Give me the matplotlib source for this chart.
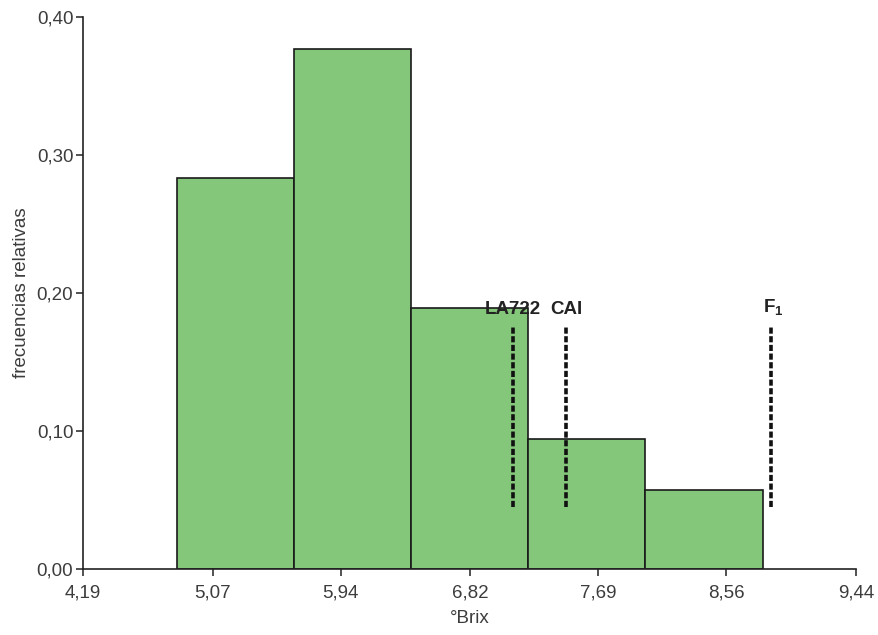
import numpy as np
import matplotlib.pyplot as plt

plt.rcParams['font.family'] = ['Liberation Sans', 'DejaVu Sans']

# histogram bins (°Brix) and relative frequencies
bin_edges = [4.83, 5.62, 6.42, 7.21, 8.01, 8.81]
rel_freq = [0.283, 0.377, 0.189, 0.094, 0.057]

# reference lines for the genotypes
ref_names = ['LA722', 'CAI', 'F$_{\\mathregular{1}}$']
ref_x = [7.11, 7.47, 8.86]
ref_ymin = 0.045
ref_ymax = 0.176

xticks = [4.19, 5.07, 5.94, 6.82, 7.69, 8.56, 9.44]
xtick_labels = ['4,19', '5,07', '5,94', '6,82', '7,69', '8,56', '9,44']
yticks = [0.0, 0.1, 0.2, 0.3, 0.4]
ytick_labels = ['0,00', '0,10', '0,20', '0,30', '0,40']

fig = plt.figure(figsize=(8.79, 6.35), dpi=100)
ax = fig.add_axes([83/879, 66/635, 773/879, 552/635])

left = np.array(bin_edges[:-1])
widths = np.diff(bin_edges)
ax.bar(left, rel_freq, width=widths, align='edge', color='#85c77a',
       edgecolor='#1a1a1a', linewidth=1.2)

ax.vlines(ref_x, ref_ymin, ref_ymax, colors='#111111', linewidth=2.6,
          linestyles=(0, (1.7, 0.7)))
offsets = [0.0, 0.0, 0.02]
for name, x, dx in zip(ref_names, ref_x, offsets):
    ax.text(x + dx, ref_ymax + 0.006, name, ha='center', va='bottom',
            fontsize=13.5, fontweight='bold', color='#222222')

ax.set_xlim(4.19, 9.44)
ax.set_ylim(0, 0.40)
ax.set_xticks(xticks)
ax.set_xticklabels(xtick_labels)
ax.set_yticks(yticks)
ax.set_yticklabels(ytick_labels)

for s in ['top', 'right']:
    ax.spines[s].set_visible(False)
for s in ['left', 'bottom']:
    ax.spines[s].set_linewidth(1.2)
    ax.spines[s].set_color('#222222')

ax.tick_params(axis='both', direction='out', length=5, width=1.1,
               labelsize=13.5, labelcolor='#3c3c3c', color='#222222')
ax.tick_params(axis='x', pad=6)
ax.tick_params(axis='y', pad=2)

ax.set_xlabel('°Brix', fontsize=13.5, color='#3c3c3c', labelpad=6)
ax.set_ylabel('frecuencias relativas', fontsize=13.5, color='#3c3c3c',
              labelpad=5)

plt.savefig('out.png', dpi=100)
